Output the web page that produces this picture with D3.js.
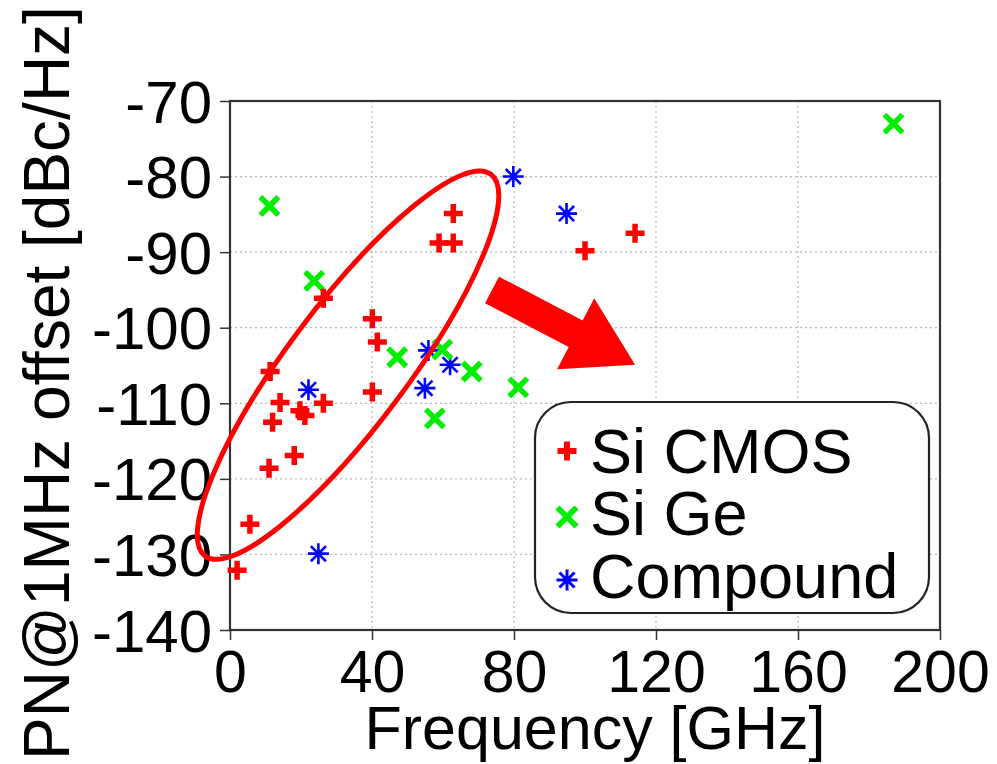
<!DOCTYPE html>
<html>
<head>
<meta charset="utf-8">
<script src="https://cdn.jsdelivr.net/npm/d3@7"></script>
<style>
  html, body { margin: 0; padding: 0; background: #fff; }
  svg { display: block; }
  text { font-family: "Liberation Sans", Arial, sans-serif; fill: #000; }
</style>
</head>
<body>
<svg id="chart" width="997" height="764"></svg>
<script>
// Oscillator phase noise at 1 MHz offset versus oscillation frequency
const xTicks = [0, 40, 80, 120, 160, 200];
const yTicks = [-70, -80, -90, -100, -110, -120, -130, -140];

const seriesNames = ["Si CMOS", "Si Ge", "Compound"];

const siCmosFreq = [2.0, 5.6, 11.3, 11.0, 12.0, 14.1, 18.1, 19.7, 21.1, 26.3, 26.3, 40.1, 41.5, 40.1, 58.9, 62.9, 62.9, 100.0, 114.1];
const siCmosPN   = [-132.1, -126.0, -105.8, -118.6, -112.5, -109.9, -116.9, -111.0, -111.6, -110.0, -96.1, -98.8, -101.9, -108.5, -88.8, -88.8, -84.9, -89.8, -87.5];

const siGeFreq = [11.1, 23.7, 47.1, 59.8, 68.1, 57.7, 81.2, 186.9];
const siGePN   = [-83.9, -93.8, -103.9, -102.9, -105.8, -112.0, -107.9, -73.0];

const compoundFreq = [79.8, 94.8, 55.9, 62.0, 54.9, 22.1, 24.9];
const compoundPN   = [-80.0, -84.9, -103.0, -104.9, -108.0, -108.2, -129.9];

// Annotation: ellipse around the CMOS trend (major-axis tips, in data units) and trend arrow
const ellipseTips = [[-7.0, -130.2], [73.5, -79.7]];
const arrowFrom = [73.8, -95.0];
const arrowTo = [114.1, -104.9];

const svg = d3.select("#chart");
const plot = { left: 230, right: 940, top: 101, bottom: 630 };

const x = d3.scaleLinear().domain([0, 200]).range([plot.left, plot.right]);
const y = d3.scaleLinear().domain([-140, -70]).range([plot.bottom, plot.top]);

// grid
const grid = svg.append("g").attr("stroke", "#b8b8b8").attr("stroke-width", 1.2)
  .attr("stroke-dasharray", "2,3");
grid.selectAll("line.gx").data(xTicks.slice(1, -1)).join("line")
  .attr("x1", d => x(d)).attr("x2", d => x(d))
  .attr("y1", plot.top).attr("y2", plot.bottom);
grid.selectAll("line.gy").data(yTicks.slice(1, -1)).join("line")
  .attr("x1", plot.left).attr("x2", plot.right)
  .attr("y1", d => y(d)).attr("y2", d => y(d));

// axes (plain hyphen for negative labels)
const fmt = d => String(d);
const xAxis = d3.axisBottom(x).tickValues(xTicks).tickFormat(fmt)
  .tickSizeInner(10).tickSizeOuter(0).tickPadding(10);
const yAxis = d3.axisLeft(y).tickValues(yTicks).tickFormat(fmt)
  .tickSizeInner(10).tickSizeOuter(0).tickPadding(8);

const gx = svg.append("g").attr("transform", `translate(0,${plot.bottom})`).call(xAxis);
const gy = svg.append("g").attr("transform", `translate(${plot.left},0)`).call(yAxis);

[gx, gy].forEach(g => {
  g.select(".domain").remove();
  g.selectAll(".tick line").attr("stroke", "#333").attr("stroke-width", 1.5);
  g.selectAll(".tick text").attr("fill", "#000")
    .style("font-family", '"Liberation Sans", Arial, sans-serif');
});
gx.selectAll(".tick text").attr("font-size", 59).attr("dy", "0.71em");
gy.selectAll(".tick text").attr("font-size", 60).attr("dy", "0.35em");

// frame
svg.append("rect")
  .attr("x", plot.left).attr("y", plot.top)
  .attr("width", plot.right - plot.left).attr("height", plot.bottom - plot.top)
  .attr("fill", "none").attr("stroke", "#333").attr("stroke-width", 2.2);

// axis titles
svg.append("text")
  .attr("x", 595).attr("y", 749)
  .attr("text-anchor", "middle").attr("font-size", 61)
  .text("Frequency [GHz]");

svg.append("text")
  .attr("transform", "translate(69,383) rotate(-90)")
  .attr("text-anchor", "middle").attr("font-size", 64)
  .text("PN@1MHz offset [dBc/Hz]");

// marker path generators
function plusPath(s) { return `M${-s},0H${s}M0,${-s}V${s}`; }
function crossPath(s) { return `M${-s},${-s}L${s},${s}M${-s},${s}L${s},${-s}`; }
function starPath(s) {
  const d = s * 0.72;
  return `M${-s},0H${s}M0,${-s}V${s}M${-d},${-d}L${d},${d}M${-d},${d}L${d},${-d}`;
}

const markers = svg.append("g");

function drawSeries(freq, pn, pathD, color, width) {
  markers.append("g").selectAll("path").data(freq.map((f, i) => [f, pn[i]])).join("path")
    .attr("transform", d => `translate(${x(d[0])},${y(d[1])})`)
    .attr("d", pathD)
    .attr("fill", "none")
    .attr("stroke", color)
    .attr("stroke-width", width)
    .attr("stroke-linecap", "butt");
}

drawSeries(compoundFreq, compoundPN, starPath(10.5), "#0000ff", 2.6);
drawSeries(siGeFreq, siGePN, crossPath(9), "#00ee00", 5.5);
drawSeries(siCmosFreq, siCmosPN, plusPath(9.5), "#ff0000", 5.5);

// ellipse annotation
const p1 = [x(ellipseTips[0][0]), y(ellipseTips[0][1])];
const p2 = [x(ellipseTips[1][0]), y(ellipseTips[1][1])];
const ecx = (p1[0] + p2[0]) / 2, ecy = (p1[1] + p2[1]) / 2;
const semiMajor = Math.hypot(p2[0] - p1[0], p2[1] - p1[1]) / 2;
const angle = Math.atan2(p2[1] - p1[1], p2[0] - p1[0]) * 180 / Math.PI;
svg.append("ellipse")
  .attr("cx", 0).attr("cy", 0)
  .attr("rx", semiMajor).attr("ry", 60)
  .attr("transform", `translate(${ecx},${ecy}) rotate(${angle})`)
  .attr("fill", "none").attr("stroke", "#ff0000").attr("stroke-width", 5);

// trend arrow
const a0 = [x(arrowFrom[0]), y(arrowFrom[1])];
const a1 = [x(arrowTo[0]), y(arrowTo[1])];
const aLen = Math.hypot(a1[0] - a0[0], a1[1] - a0[1]);
const aAng = Math.atan2(a1[1] - a0[1], a1[0] - a0[0]) * 180 / Math.PI;
const shaftHalf = 15, headHalf = 40, headLen = 67;
const arrowPts = [
  [0, -shaftHalf], [aLen - headLen, -shaftHalf], [aLen - headLen, -headHalf],
  [aLen, 0], [aLen - headLen, headHalf], [aLen - headLen, shaftHalf], [0, shaftHalf]
];
svg.append("path")
  .attr("transform", `translate(${a0[0]},${a0[1]}) rotate(${aAng})`)
  .attr("d", d3.line()(arrowPts) + "Z")
  .attr("fill", "#ff0000");

// legend
const legend = svg.append("g");
legend.append("rect")
  .attr("x", 535).attr("y", 402).attr("width", 394).attr("height", 211)
  .attr("rx", 36).attr("ry", 36)
  .attr("fill", "#fff").attr("stroke", "#222").attr("stroke-width", 2.2);

const legendItems = [
  { name: seriesNames[0], d: plusPath(9.5), color: "#ff0000", w: 6 },
  { name: seriesNames[1], d: crossPath(9.5), color: "#00ee00", w: 5.8 },
  { name: seriesNames[2], d: starPath(10.5), color: "#0000ff", w: 3 }
];
const rowY = [451, 517, 580];
const rowBase = [473, 535, 598];
legendItems.forEach((it, i) => {
  legend.append("path")
    .attr("transform", `translate(567,${rowY[i]})`)
    .attr("d", it.d).attr("fill", "none")
    .attr("stroke", it.color).attr("stroke-width", it.w);
  legend.append("text")
    .attr("x", 590).attr("y", rowBase[i])
    .attr("font-size", 63)
    .text(it.name);
});
</script>
</body>
</html>
